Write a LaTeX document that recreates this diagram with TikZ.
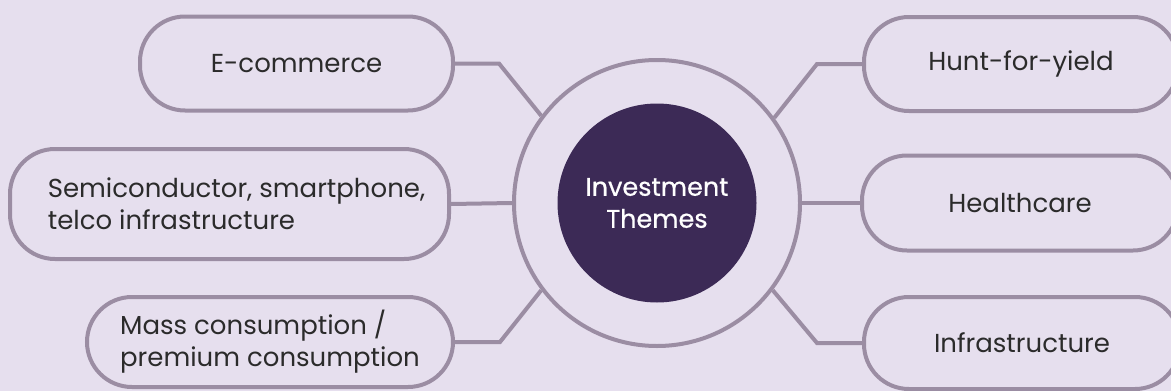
\documentclass[tikz,border=0pt]{standalone}
\usepackage{fontspec}
\setmainfont{Poppins}
\newfontfamily\medfont{Poppins}[FakeBold=0.6]
\definecolor{bg}{HTML}{E6DFEE}
\definecolor{linec}{HTML}{9B8DA3}
\definecolor{darkc}{HTML}{3C2A56}
\definecolor{txt}{HTML}{2B2B2B}
\tikzset{
  themebox/.style={draw=linec, line width=4pt, rounded corners=45pt, inner sep=0pt,
    text=txt, align=left, font=\fontsize{26}{32}\selectfont},
  boxtext/.style={inner sep=0pt, text=txt, align=left, font=\fontsize{26}{32}\selectfont},
  conn/.style={draw=linec, line width=4pt},
}
\begin{document}
\begin{tikzpicture}[x=1pt,y=-1pt]
\fill[bg] (0,0) rectangle (1171,391);
\useasboundingbox (0,0) rectangle (1171,391);
\node[draw=linec, line width=4pt, circle, minimum size=286pt, inner sep=0pt] (ring) at (657,203) {};
\node[fill=darkc, circle, minimum size=199pt, inner sep=0pt, text=white, align=center,
  font=\medfont\fontsize{25.5}{32}\selectfont] (core) at (657,203) {Investment\\Themes};
\node[themebox, minimum width=313pt, minimum height=94pt] (ecom) at (296.5,63.5) {E-commerce};
\node[themebox, minimum width=439pt, minimum height=110pt] (semi) at (229.5,204) {};
\node[boxtext] (semitext) at ([xshift=7pt]semi.center) {Semiconductor, smartphone,\\telco infrastructure};
\node[themebox, minimum width=366pt, minimum height=90pt] (mass) at (270,342) {Mass consumption /\\premium consumption};
\node[themebox, minimum width=314pt, minimum height=94pt] (hunt) at (1021,64) {Hunt-for-yield};
\node[themebox, minimum width=316pt, minimum height=95pt] (health) at (1020,203) {Healthcare};
\node[themebox, minimum width=316pt, minimum height=92pt] (infra) at (1022,343) {Infrastructure};
\draw[conn] (ecom.east) -- ++(44,0) -- (ring.143.7);
\draw[conn] (semi.east) -- (ring.west);
\draw[conn] (mass.east) -- ++(45,0) -- (ring.217.4);
\draw[conn] (hunt.west) -- ++(-45,0) -- (ring.36.9);
\draw[conn] (health.west) -- (ring.east);
\draw[conn] (infra.west) -- ++(-45,0) -- (ring.-37);
\end{tikzpicture}
\end{document}
